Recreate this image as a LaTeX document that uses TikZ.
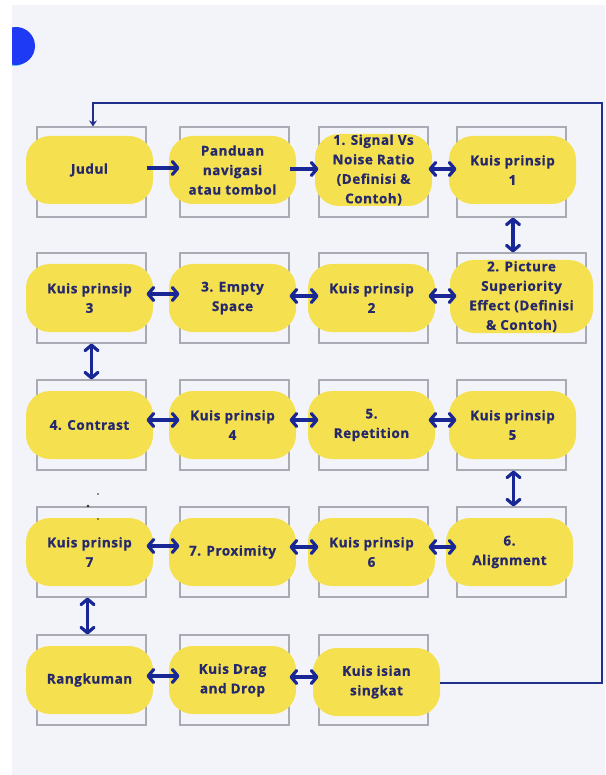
\documentclass[tikz,border=0pt]{standalone}
\usepackage{fontspec}
\setmainfont{Open Sans}[LetterSpace=4,BoldFeatures={FakeBold=0.7}]
\usetikzlibrary{arrows.meta,calc}
\definecolor{bgc}{RGB}{243,244,249}
\definecolor{ylw}{RGB}{245,224,80}
\definecolor{txtc}{RGB}{38,40,108}
\definecolor{arrc}{RGB}{24,38,150}
\definecolor{frmc}{RGB}{168,170,180}
\definecolor{loopc}{RGB}{32,46,140}
\definecolor{dotblue}{RGB}{30,58,245}
\definecolor{dotcyan}{RGB}{90,200,235}
\newcommand\mkcell[5][]{%
  \node[frame] (f#2) at (#3,#4) {};
  \node[blob,#1] (b#2) at (#3-2,#4) {#5};}
\begin{document}
\begin{tikzpicture}[x=1pt,y=-1pt,
  frame/.style={draw=frmc,line width=1.1pt,minimum width=109pt,minimum height=90pt,inner sep=0pt},
  blob/.style={fill=ylw,rounded corners=24pt,minimum width=127pt,minimum height=68pt,inner sep=0pt,align=center,text=txtc,font=\bfseries\fontsize{13.5}{19.5}\selectfont},
  dbl/.style={draw=arrc,line width=3.2pt,{Straight Barb[length=5.5pt,width=13pt,round]}-{Straight Barb[length=5.5pt,width=13pt,round]}},
  sgl/.style={draw=arrc,line width=3.2pt,-{Straight Barb[length=5.5pt,width=13pt,round]}},
  loopline/.style={draw=loopc,line width=2.2pt,-{Stealth[length=6pt,width=8pt]}},
  spot/.style={fill=black!85}]
\useasboundingbox (0,0) rectangle (605,775);
\fill[white] (0,0) rectangle (605,775);
\fill[bgc] (12,5) rectangle (605,775);
% blue blob
\begin{scope}
  \clip (12,5) rectangle (80,100);
  \fill[dotcyan] (15,61) ellipse (9 and 5);
  \fill[dotblue] (16,46) ellipse (19 and 19);
\end{scope}
% row 1
\mkcell[yshift=2pt]{11}{91.5}{172}{Judul}
\mkcell[yshift=2pt]{12}{234.5}{172}{Panduan\\navigasi\\atau tombol}
\mkcell[yshift=2pt,minimum width=117pt,minimum height=72pt,xshift=2pt]{13}{373.5}{172}{1. Signal Vs\\Noise Ratio\\(Definisi \&\\Contoh)}
\mkcell[yshift=2pt,xshift=3pt]{14}{511.5}{172}{Kuis prinsip\\1}
% row 2
\mkcell{21}{91.5}{298}{Kuis prinsip\\3}
\mkcell{22}{234.5}{298}{3. Empty\\Space}
\mkcell{23}{373.5}{298}{Kuis prinsip\\2}
\node[frame,minimum width=129pt] (f24) at (521.5,298) {};
\node[blob,minimum width=143pt,minimum height=73pt] (b24) at (521.5,296.5) {2. Picture\\Superiority\\Effect (Definisi\\\& Contoh)};
% row 3
\mkcell{31}{91.5}{425}{4. Contrast}
\mkcell{32}{234.5}{425}{Kuis prinsip\\4}
\mkcell{33}{373.5}{425}{5.\\Repetition}
\mkcell[xshift=3pt]{34}{511.5}{425}{Kuis prinsip\\5}
% row 4
\mkcell{41}{91.5}{552}{Kuis prinsip\\7}
\mkcell{42}{234.5}{552}{7. Proximity}
\mkcell{43}{373.5}{552}{Kuis prinsip\\6}
\mkcell{44}{511.5}{552}{6.\\Alignment}
% row 5
\mkcell{51}{91.5}{680}{Rangkuman}
\mkcell{52}{234.5}{680}{Kuis Drag\\and Drop}
\mkcell[xshift=5pt,yshift=-2pt]{53}{373.5}{680}{Kuis isian\\singkat}
% stray dots
\fill[spot] (98,494) circle (0.9);
\fill[spot] (88,506) circle (1.4);
\fill[spot] (98,519) circle (0.9);
% horizontal arrows
\draw[sgl] ([yshift=4pt]f11.east) -- ([yshift=4pt]f12.west);
\draw[sgl] ([yshift=3pt]f12.east) -- ([yshift=3pt]f13.west);
\draw[dbl] ([yshift=3pt]f13.east) -- ([yshift=3pt]f14.west);
\draw[dbl] ([yshift=4pt]f21.east) -- ([yshift=4pt]f22.west);
\draw[dbl] ([yshift=2pt]f22.east) -- ([yshift=2pt]f23.west);
\draw[dbl] ([yshift=2pt]f23.east) -- ([yshift=2pt]f24.west);
\draw[dbl] ([yshift=5pt]f31.east) -- ([yshift=5pt]f32.west);
\draw[dbl] ([yshift=5pt]f32.east) -- ([yshift=5pt]f33.west);
\draw[dbl] ([yshift=5pt]f33.east) -- ([yshift=5pt]f34.west);
\draw[dbl] ([yshift=6pt]f41.east) -- ([yshift=6pt]f42.west);
\draw[dbl] ([yshift=5pt]f42.east) -- ([yshift=5pt]f43.west);
\draw[dbl] ([yshift=5pt]f43.east) -- ([yshift=5pt]f44.west);
\draw[dbl] ([yshift=4pt]f51.east) -- ([yshift=4pt]f52.west);
\draw[dbl] ([yshift=3pt]f52.east) -- ([yshift=3pt]f53.west);
% vertical arrows
\draw[dbl] ([xshift=1.5pt]f14.south) -- ([xshift=1.5pt]f14.south |- f24.north);
\draw[dbl] (f21.south) -- (f31.north);
\draw[dbl] ([xshift=2pt]f34.south) -- ([xshift=2pt]f44.north);
\draw[dbl] ([xshift=-4pt]f41.south) -- ([xshift=-4pt]f51.north);
% loop connector
\coordinate (lpR) at (602,103);
\draw[loopline] ([yshift=-1pt]b53.east) -| (lpR) -| ([xshift=1.5pt]f11.north);
\end{tikzpicture}
\end{document}
